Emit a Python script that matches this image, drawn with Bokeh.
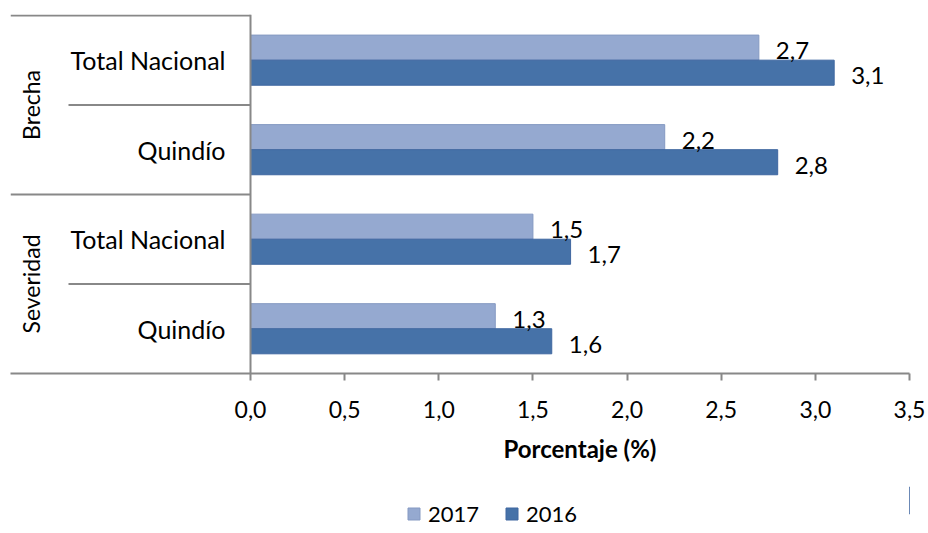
import math
from bokeh.plotting import figure
from bokeh.layouts import column
from bokeh.models import (Range1d, FixedTicker, CustomJSTickFormatter, Span, Legend, LegendItem,
                          ColumnDataSource, Title)
from bokeh.core.properties import value
from bokeh.embed import file_html
from bokeh.resources import INLINE

# ---- data ----
groups = ["Brecha", "Brecha", "Severidad", "Severidad"]
subcats = ["Total Nacional", "Quindío", "Total Nacional", "Quindío"]
v2017 = [2.7, 2.2, 1.5, 1.3]
v2016 = [3.1, 2.8, 1.7, 1.6]
x_ticks = [0.0, 0.5, 1.0, 1.5, 2.0, 2.5, 3.0, 3.5]
series_names = ["2017", "2016"]
x_title = "Porcentaje (%)"

# ---- style ----
FONT = "Lato"
C17 = "#95A9D0"
C16 = "#4672A8"
L17 = "#8599C2"
L16 = "#3F67A0"
GRID = "#888888"
TXT = "#000000"

FRAME_W = 899
X_MAX = 3.5
PX = (FRAME_W - 240) / X_MAX          # pixels per unit
X_MIN = -240 / PX                      # room for the category labels
n = len(subcats)
ys = [n - i - 0.5 for i in range(n)]
BAR_H = 0.28

p = figure(output_backend="svg", toolbar_location=None,
           width=928, height=478,
           frame_width=FRAME_W, frame_height=359,
           x_range=Range1d(X_MIN, X_MAX), y_range=Range1d(0, n + 0.01),
           y_axis_location=None,
           min_border_left=10, min_border_right=19, min_border_top=14, min_border_bottom=0)
p.outline_line_color = None
p.xgrid.visible = False
p.ygrid.visible = False
p.background_fill_color = "white"
p.border_fill_color = "white"

src = ColumnDataSource(dict(y17=[y + BAR_H / 2 for y in ys], y16=[y - BAR_H / 2 for y in ys],
                            v17=v2017, v16=v2016,
                            t17=[f"{v:.1f}".replace(".", ",") for v in v2017],
                            t16=[f"{v:.1f}".replace(".", ",") for v in v2016]))

r17 = p.hbar(y="y17", left=0, right="v17", height=BAR_H, source=src,
             fill_color=C17, line_color=L17, line_width=1)
r16 = p.hbar(y="y16", left=0, right="v16", height=BAR_H, source=src,
             fill_color=C16, line_color=L16, line_width=1)

# data labels
for ycol, tcol, vcol in (("y17", "t17", "v17"), ("y16", "t16", "v16")):
    p.text(x=vcol, y=ycol, text=tcol, source=src, x_offset=17, y_offset=3,
           text_align="left", text_baseline="middle",
           text_font=value(FONT), text_font_size="24px", text_color=TXT)

# vertical axis line
p.add_layout(Span(location=0, dimension="height", line_color=GRID, line_width=2))

# separators
sub_x0 = X_MIN + 58 / PX
seg_x0 = [X_MIN, sub_x0, X_MIN, sub_x0]
seg_y = [n, n - 1, n - 2, n - 3]
p.segment(x0=seg_x0, y0=seg_y, x1=[0] * 4, y1=seg_y, line_color=GRID, line_width=2)

# subcategory labels
p.text(x=[0] * n, y=ys, text=subcats, x_offset=-25, text_align="right", text_baseline="middle",
       text_font=value(FONT), text_font_size="25px", text_color=TXT)

# group labels (rotated)
ug = []
for g in groups:
    if g not in ug:
        ug.append(g)
gy = [sum(y for y, gg in zip(ys, groups) if gg == g) / groups.count(g) for g in ug]
p.text(x=[X_MIN + 20 / PX] * len(ug), y=gy, text=ug, angle=math.pi / 2,
       text_align="center", text_baseline="middle",
       text_font=value(FONT), text_font_size="23px", text_color=TXT)

# x axis
xa = p.xaxis[0]
xa.ticker = FixedTicker(ticks=x_ticks)
xa.formatter = CustomJSTickFormatter(code="return tick.toFixed(1).replace('.', ',');")
xa.minor_tick_line_color = None
xa.major_tick_in = 0
xa.major_tick_out = 7
xa.major_tick_line_color = GRID
xa.major_tick_line_width = 2
xa.axis_line_color = GRID
xa.axis_line_width = 2
xa.major_label_text_font = FONT
xa.major_label_text_font_size = "23px"
xa.major_label_text_color = TXT
xa.major_label_standoff = 20

# axis title centred under the value part of the axis
p.add_layout(Title(text=x_title, align="left", offset=493, standoff=22,
                   text_font=FONT, text_font_size="24px", text_font_style="bold",
                   text_color=TXT), "below")

# ---- legend strip ----
q = figure(output_backend="svg", toolbar_location=None, width=928, height=54,
           x_range=Range1d(0, 1), y_range=Range1d(0, 1),
           x_axis_location=None, y_axis_location=None,
           min_border_left=0, min_border_right=0, min_border_top=0, min_border_bottom=0)
q.outline_line_color = None
q.xgrid.visible = False
q.ygrid.visible = False
q.border_fill_color = "white"
# legend keys only (placed to the right of the strip's visible range)
k17 = q.hbar(y=[0.5], left=[2], right=[3], height=0.5, fill_color=C17, line_color=L17)
k16 = q.hbar(y=[0.5], left=[2], right=[3], height=0.5, fill_color=C16, line_color=L16)
legend = Legend(items=[LegendItem(label=series_names[0], renderers=[k17]),
                       LegendItem(label=series_names[1], renderers=[k16])],
                orientation="horizontal", location=(396, 0),
                glyph_width=15, glyph_height=15, label_standoff=7, spacing=25,
                label_text_font=FONT, label_text_font_size="22px", label_text_color=TXT,
                border_line_color=None, background_fill_alpha=0,
                margin=0, padding=0)
q.add_layout(legend, "center")

layout = column(p, q, spacing=0)
open("out.html", "w").write(file_html(layout, INLINE))
